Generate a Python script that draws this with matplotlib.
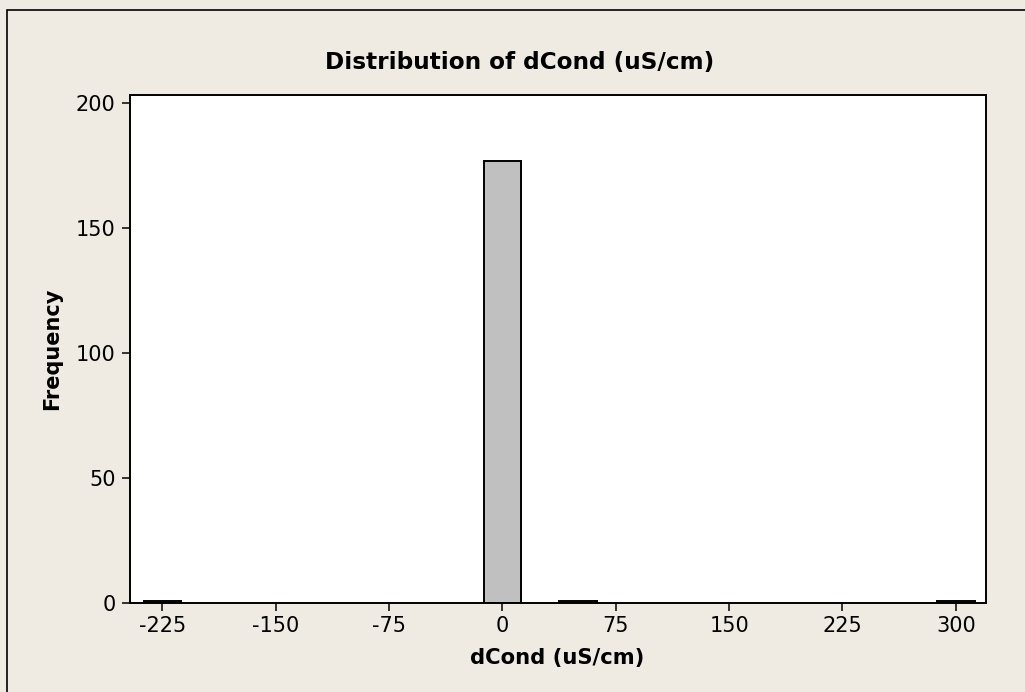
import matplotlib

matplotlib.use("Agg")
import matplotlib.pyplot as plt
from matplotlib.patches import Rectangle

plt.rcParams["axes.unicode_minus"] = False

# histogram bins (bin width 25), only non-empty bins are drawn
bin_centers = [-225, 0, 50, 300]
counts = [1, 177, 1, 1]
bin_width = 25
x_ticks = [-225, -150, -75, 0, 75, 150, 225, 300]
y_ticks = [0, 50, 100, 150, 200]

BG = "#EFEBE2"

fig = plt.figure(figsize=(10.25, 6.92), dpi=100, facecolor=BG)
# outer frame of the graph region
fig.patches.append(
    Rectangle((7 / 1025, -0.1), 1.2, 0.1 + (692 - 10) / 692, transform=fig.transFigure,
              fill=False, edgecolor="black", lw=1.2)
)

ax = fig.add_axes([130 / 1025, (692 - 603) / 692, (986 - 130) / 1025, (603 - 95) / 692])
ax.set_facecolor("white")
ax.bar(bin_centers, counts, width=bin_width, color="#C0C0C0", edgecolor="black", lw=1.4)

ax.set_xlim(-246.5, 320)
ax.set_ylim(0, 203.2)
ax.set_xticks(x_ticks)
ax.set_yticks(y_ticks)
for s in ax.spines.values():
    s.set_linewidth(1.4)
ax.tick_params(direction="out", length=5.5, width=1.1, labelsize=15, pad=4)
ax.tick_params(axis="y", pad=5)

fig.text(520 / 1025, 1 - 62 / 692, "Distribution of dCond (uS/cm)", ha="center", va="center",
         fontsize=16.7, fontweight="bold")
fig.text(557 / 1025, 1 - 658 / 692, "dCond (uS/cm)", ha="center", va="center",
         fontsize=15.2, fontweight="bold")
fig.text(52 / 1025, 1 - 349 / 692, "Frequency", ha="center", va="center", rotation=90,
         fontsize=15, fontweight="bold")

fig.savefig("out.png", dpi=100, facecolor=BG)
